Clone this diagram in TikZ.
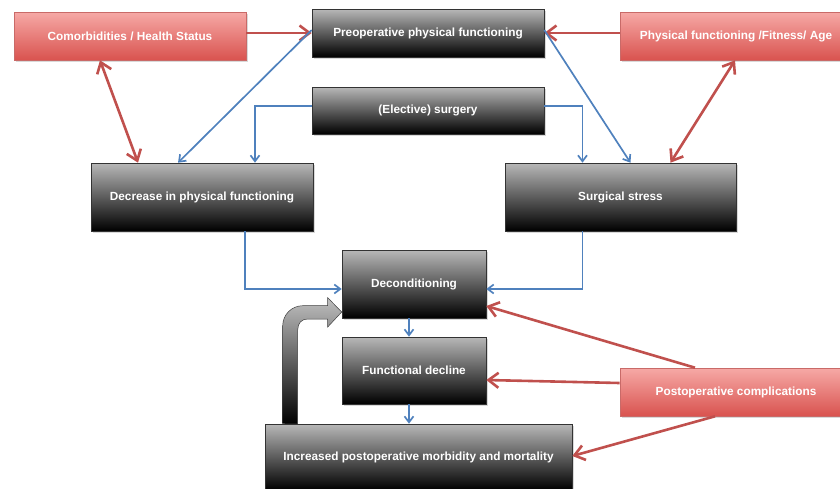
\documentclass[tikz,border=0pt]{standalone}
\usepackage{fontspec}
\setmainfont{Liberation Sans}
\usepackage{tikz}
\usetikzlibrary{arrows.meta,shadows}

\definecolor{offblue}{HTML}{4F81BD}
\definecolor{offred}{HTML}{C0504D}
\definecolor{redtop}{HTML}{F6A9A6}
\definecolor{redbot}{HTML}{D9534F}

\begin{document}
\begin{tikzpicture}[x=1pt,y=-1pt,
        font=\fontsize{11.8}{14}\selectfont\bfseries,
        boxshadow/.style={drop shadow={opacity=0.3,shadow xshift=1.5pt,shadow yshift=-1.5pt}},
        darkbox/.style={rectangle,draw=black!80,line width=0.6pt,top color=black!28,
            bottom color=black,text=white,inner sep=0pt,boxshadow},
        redbox/.style={rectangle,draw=offred!85,line width=0.6pt,top color=redtop,
            bottom color=redbot,text=white,inner sep=0pt,boxshadow},
        bluearrow/.style={draw=offblue,line width=1.7pt,-{Straight Barb[length=6pt,width=9pt]}},
        redarrow/.style={draw=offred,line width=2.6pt,-{Straight Barb[length=10pt,width=15pt]}},
        redboth/.style={redarrow,{Straight Barb[length=10pt,width=15pt]}-{Straight Barb[length=10pt,width=15pt]}},
        loopback/.style={draw=black!75,line width=0.5pt,top color=black!25,bottom color=black}]
    \useasboundingbox (0,0) rectangle (840,488);

    % top row
    \node[redbox,minimum width=232pt,minimum height=48pt] (comorb) at (130,36) {Comorbidities / Health Status};
    \node[darkbox,minimum width=232pt,minimum height=48pt] (preop) at (428,33) {Preoperative physical functioning};
    \node[redbox,minimum width=232pt,minimum height=48pt] (fitness) at (736,36) {Physical functioning /Fitness/ Age};
    \node[darkbox,minimum width=232pt,minimum height=47pt] (surgery) at (428,110.5) {(Elective) surgery};

    % middle row
    \node[darkbox,minimum width=222pt,minimum height=68pt] (decrease) at (202,197) {Decrease in physical functioning};
    \node[darkbox,minimum width=231pt,minimum height=68pt] (stress) at (620.5,197) {Surgical stress};

    % chain
    \node[darkbox,minimum width=144pt,minimum height=68pt] (decond) at (414,284) {Deconditioning};
    \node[darkbox,minimum width=144pt,minimum height=67pt] (decline) at (414,370.5) {Functional decline};
    \node[darkbox,minimum width=307pt,minimum height=66pt] (morbid) at (418.5,457) {Increased postoperative morbidity and mortality};
    \node[redbox,minimum width=232pt,minimum height=48pt] (complic) at (736,392) {Postoperative complications};

    % red links
    \draw[redarrow] (comorb.east |- preop.west) -- (preop.west);
    \draw[redarrow] (fitness.west |- preop.east) -- (preop.east);
    \draw[redboth] ([xshift=-30pt]comorb.south) -- ([xshift=-64pt]decrease.north);
    \draw[redboth] ([xshift=-1pt]fitness.south) -- ([xshift=50pt]stress.north);
    \draw[redarrow] ([xshift=-41pt]complic.north) -- ([yshift=-22pt]decond.east);
    \draw[redarrow] ([yshift=9pt]complic.west) -- ([yshift=-9.5pt]decline.east);
    \draw[redarrow] ([xshift=-21pt]complic.south) -- ([yshift=1pt]morbid.east);

    % blue links
    \draw[bluearrow] ([yshift=3pt]preop.west) -- ([xshift=-24pt]decrease.north);
    \draw[bluearrow] ([yshift=3pt]preop.east) -- ([xshift=10pt]stress.north);
    \draw[bluearrow] ([yshift=4.5pt]surgery.west) -| ([xshift=53pt]decrease.north);
    \draw[bluearrow] ([yshift=4.5pt]surgery.east) -| ([xshift=-38pt]stress.north);
    \draw[bluearrow] ([xshift=43pt]decrease.south) |- ([yshift=-5pt]decond.west);
    \draw[bluearrow] ([xshift=-38pt]stress.south) |- ([yshift=-5pt]decond.east);
    \draw[bluearrow] ([xshift=-5pt]decond.south) -- ([xshift=-5pt]decline.north);
    \draw[bluearrow] ([xshift=-5pt]decline.south) -- ([xshift=-5pt]decline.south |- morbid.north);

    % feedback block arrow
    \coordinate (loopfoot) at ([xshift=18pt]morbid.north west);
    \coordinate (looptip) at ([yshift=-28pt]decond.west);
    \path[loopback] (loopfoot) -- ++(0,-98)
        .. controls +(0,-11) and +(-11,0) .. ++(20,-20)
        -- ++(25,0) -- ++(0,-8) -- (looptip) -- ++(-14,15) -- ++(0,-8) -- ++(-20,0)
        .. controls +(-6,0) and +(0,-7) .. ++(-10,11)
        -- ++(0,94) -- cycle;
\end{tikzpicture}
\end{document}
